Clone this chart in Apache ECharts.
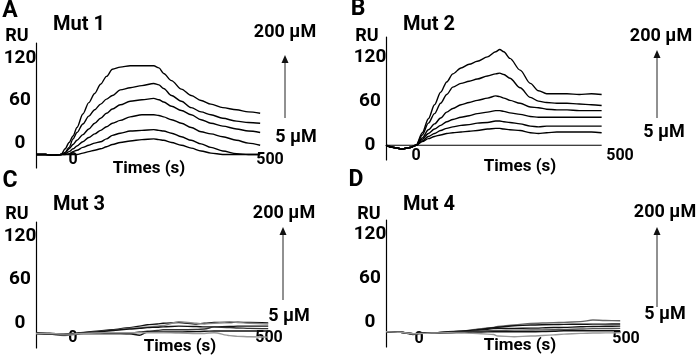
<!DOCTYPE html>
<html>
<head>
<meta charset="utf-8">
<script src="https://cdn.jsdelivr.net/npm/echarts@6/dist/echarts.min.js"></script>
<style>html,body{margin:0;padding:0;background:#fff}#c{width:699px;height:360px}</style>
</head>
<body>
<div id="c"></div>
<script>
// ---------- DATA ----------
const yTickValues = [0, 60, 120];
const xTickValues = [0, 500];
const panelLetters = ['A', 'B', 'C', 'D'];
const panelTitles = ['Mut 1', 'Mut 2', 'Mut 3', 'Mut 4'];
const yName = 'RU';
const xName = 'Times (s)';
const concHigh = '200 μM';
const concLow = '5 μM';

const timesA = [-94, -70, -50, -30, -20, -10, 0, 10, 25, 40, 55, 70, 85, 100, 120, 145, 175, 205, 218, 230, 250, 275, 300, 325, 350, 380, 415, 445, 475];
const a1 = [-16, -16, -17, -16, -8, 1, 10, 22, 41, 57, 70, 83, 94, 104, 107, 109, 109, 109, 106, 98, 88, 76, 67, 60, 55, 50, 47, 44, 42];
const a2 = [-16, -16, -17, -16, -13, -6, 6, 15, 27, 38, 47, 55, 62, 67, 75, 78, 81, 84, 82, 77, 67, 59, 50, 44, 40, 35, 31, 29, 28];
const a3 = [-16, -16, -17, -16, -14, -8, -2, 4, 12, 20, 28, 35, 42, 48, 54, 59, 61, 63, 61, 58, 52, 46, 40, 33, 28, 24, 20, 17, 15];
const a4 = [-16, -16, -17, -16, -15, -12, -8, -4, 2, 8, 13, 18, 23, 28, 32, 37, 40, 40, 39, 37, 33, 28, 22, 16, 13, 9, 4, 0, -3];
const a5 = [-16, -16, -17, -16, -16, -15, -12, -10, -6, -3, 0, 2, 6, 11, 14, 17, 18, 19, 18, 17, 14, 9, 4, -1, -6, -11, -15, -16, -16];
const a6 = [-16, -16, -17, -16, -16, -16, -16, -16, -14, -12, -10, -8, -5, -2, 1, 3, 5, 6, 5, 4, 1, -3, -7, -11, -14, -16, -16, -16, -16];

const timesB = [-74, -55, -35, -15, 0, 15, 30, 45, 60, 75, 90, 110, 130, 150, 175, 195, 205, 215, 230, 255, 280, 300, 320, 345, 370, 400, 430, 455];
const b1 = [0, -3, -5, -3, 0, 17, 36, 55, 72, 86, 97, 105, 110, 114, 120, 127, 130, 127, 118, 102, 84, 74, 70, 70, 70, 69, 70, 69];
const b2 = [0, -3, -5, -3, 0, 14, 30, 43, 57, 69, 79, 84, 87, 90, 94, 97, 98, 96, 91, 78, 65, 60, 58, 57, 57, 56, 55, 54];
const b3 = [0, -3, -5, -3, 0, 10, 21, 29, 37, 45, 50, 55, 58, 61, 64, 67, 66, 64, 61, 57, 52, 51, 49, 48, 48, 47, 47, 47];
const b4 = [0, -3, -5, -3, 0, 8, 16, 22, 27, 32, 35, 38, 40, 43, 45, 47, 47, 46, 44, 42, 39, 38, 38, 38, 38, 38, 38, 38];
const b5 = [0, -3, -5, -3, 0, 6, 12, 16, 20, 23, 25, 27, 28, 30, 31, 33, 33, 32, 31, 29, 26, 25, 26, 26, 26, 26, 26, 26];
const b6 = [0, -3, -5, -3, 0, 5, 9, 12, 14, 16, 17, 18, 19, 20, 22, 23, 23, 22, 21, 20, 17, 16, 17, 18, 18, 18, 18, 17];
const baseTimesB = [-74, 455];
const baseValuesB = [0, 0];

const timesC = [-94, -60, -25, 0, 20, 60, 100, 145, 170, 190, 215, 230, 270, 315, 335, 360, 400, 420, 450, 498];
const c1 = [-14, -14, -16, -15, -13, -11, -9, -6, -4, -2, -1, 0, 1, -1, 0, 1, 1, 1.5, 1, 0.5];
const c2 = [-14, -15, -17, -16, -14, -12, -10, -7, -6, -5, -4, -3, 2, 0, -1, 0, 2, 1, 0, -1];
const c3 = [-13, -14, -15, -14, -13, -12, -10, -8, -7, -6, -5.5, -5, -4, -4.5, -5, -5, -4.5, -4, -4, -4];
const c4 = [-14, -14, -15, -15, -14, -14, -14, -14, -12, -11, -10, -9, -9, -8.7, -8, -5, -6, -6.5, -7, -7.4];
const c5 = [-14, -15, -16, -15, -14, -14, -14, -14.5, -16.5, -12, -12, -12, -12, -11.5, -11, -10.6, -10.6, -10.6, -10.6, -10.6];
const c6 = [-14, -14, -15, -15, -14, -13.5, -13, -13, -13, -13, -13, -13, -13.5, -14, -14, -13, -17, -18, -18.5, -19];

const timesD = [-80, -45, -15, 10, 30, 70, 110, 150, 180, 190, 230, 270, 325, 350, 390, 420, 450, 486];
const d1 = [-13, -14, -16, -15.5, -15.5, -13, -12, -9, -7.3, -6, -4, -1.8, -0.9, -0.5, 0.5, 2.7, 2, 1.8];
const d2 = [-13, -14, -16, -15, -15, -13.5, -12, -10, -7.7, -7, -5, -4, -3.5, -3.2, -3, -2.9, -2.8, -2.7];
const d3 = [-13, -14, -17, -15, -15, -14, -12.5, -11, -9, -8.6, -8.6, -8.3, -7.5, -7.3, -6.5, -6, -5.8, -5.5];
const d4 = [-13, -14, -16, -15, -15, -14.5, -13.5, -12, -11.8, -11.5, -11, -10.9, -10.5, -10, -9.5, -9, -8.8, -8.6];
const d5 = [-13, -14, -16, -15, -15, -14.5, -14, -13.5, -13.2, -13.2, -13.2, -13.2, -12.5, -11.8, -11.8, -11.8, -11.8, -11.8];
const d6 = [-13, -14, -16, -15.5, -15, -14.5, -15, -16, -17, -19, -20, -19, -17.5, -16.4, -15.5, -15, -14.8, -14.5];

// ---------- LAYOUT / STYLE ----------
const FONT = 'Roboto, "Liberation Sans", sans-serif';
const panels = [
  { grid: { left: 36, top: 43, width: 234, height: 125 }, x: [-94, 500], y: [-35, 141], xOffset: -16,
    times: timesA, series: [a1, a2, a3, a4, a5, a6], colors: ['#000', '#000', '#000', '#000', '#000', '#000'],
    letter: [10, 11], title: [53, 25], ru: [17, 36], xname: [149, 169], hi: [285, 32], lo: [296, 137], arrow: [285, 118, 55] },
  { grid: { left: 386, top: 37, width: 234, height: 123 }, x: [-74, 500], y: [-20, 147], xOffset: -12,
    times: timesB, series: [b1, b2, b3, b4, b5, b6], colors: ['#000', '#000', '#000', '#000', '#000', '#000'],
    letter: [358, 9], title: [403, 25], ru: [367, 36], xname: [520, 167], hi: [661, 36], lo: [664, 132], arrow: [657, 118, 50] },
  { grid: { left: 36, top: 222, width: 233, height: 126 }, x: [-94, 500], y: [-34, 139], xOffset: -18,
    times: timesC, series: [c1, c2, c3, c4, c5, c6], colors: ['#111', '#888', '#111', '#333', '#111', '#999'],
    letter: [10, 181], title: [53, 205], ru: [17, 214], xname: [180, 347], hi: [284, 213], lo: [289, 316], arrow: [283, 300, 227] },
  { grid: { left: 386, top: 220, width: 240, height: 127 }, x: [-80, 500], y: [-34, 139], xOffset: -16,
    times: timesD, series: [d1, d2, d3, d4, d5, d6], colors: ['#666', '#111', '#111', '#555', '#111', '#999'],
    letter: [356, 180], title: [403, 205], ru: [369, 214], xname: [520, 346], hi: [665, 212], lo: [665, 314], arrow: [657, 307, 227] }
];

const grids = [], xAxes = [], yAxes = [], series = [], graphics = [];

function txt(str, pos, size, align) {
  return { type: 'text', x: pos[0], y: pos[1], silent: true,
    style: { text: str, fill: '#000', fontSize: size, fontWeight: 'bold', fontFamily: FONT,
             align: align || 'center', verticalAlign: 'middle' } };
}

panels.forEach((p, i) => {
  grids.push(Object.assign({ outerBoundsMode: 'none', containLabel: false }, p.grid));
  xAxes.push({
    type: 'value', gridIndex: i, min: p.x[0], max: p.x[1], position: 'bottom', offset: p.xOffset,
    axisLine: { show: false, onZero: false }, axisTick: { show: false }, splitLine: { show: false },
    axisLabel: { customValues: xTickValues, margin: 0, fontSize: 16, fontWeight: 'bold', fontFamily: FONT, color: '#000',
                 showMinLabel: true, showMaxLabel: true }
  });
  yAxes.push({
    type: 'value', gridIndex: i, min: p.y[0], max: p.y[1],
    axisLine: { show: true, onZero: false, lineStyle: { color: '#000', width: 1.2 } },
    axisTick: { show: false }, splitLine: { show: false },
    axisLabel: { customValues: yTickValues, margin: 16, align: 'center', fontSize: 19, fontWeight: 'bold', fontFamily: FONT, color: '#000' }
  });
  p.series.forEach((vals, k) => {
    series.push({
      type: 'line', xAxisIndex: i, yAxisIndex: i, symbol: 'none', smooth: 0.3, smoothMonotone: 'x',
      lineStyle: { color: p.colors[k], width: 1.4 }, silent: true, animation: false,
      data: p.times.map((t, j) => [t, vals[j]])
    });
  });
  graphics.push(txt(panelLetters[i], p.letter, 23));
  graphics.push(txt(panelTitles[i], p.title, 20, 'left'));
  graphics.push(txt(yName, p.ru, 18));
  graphics.push(txt(xName, p.xname, 17));
  graphics.push(txt(concHigh, p.hi, 18));
  graphics.push(txt(concLow, p.lo, 18));
  const ax = p.arrow[0], ay0 = p.arrow[1], ay1 = p.arrow[2];
  graphics.push({ type: 'line', silent: true, shape: { x1: ax, y1: ay0, x2: ax, y2: ay1 + 7 }, style: { stroke: '#222', lineWidth: 1 } });
  graphics.push({ type: 'polygon', silent: true, shape: { points: [[ax - 3.5, ay1 + 8], [ax + 3.5, ay1 + 8], [ax, ay1]] }, style: { fill: '#111' } });
});

// zero reference line of panel B
series.push({
  type: 'line', xAxisIndex: 1, yAxisIndex: 1, symbol: 'none', silent: true, animation: false,
  lineStyle: { color: '#000', width: 1.2 },
  data: baseTimesB.map((t, j) => [t, baseValuesB[j]])
});

const chart = echarts.init(document.getElementById('c'), null, { renderer: 'canvas' });
chart.setOption({
  animation: false,
  backgroundColor: '#fff',
  grid: grids, xAxis: xAxes, yAxis: yAxes, series: series,
  graphic: graphics
});
</script>
</body>
</html>
